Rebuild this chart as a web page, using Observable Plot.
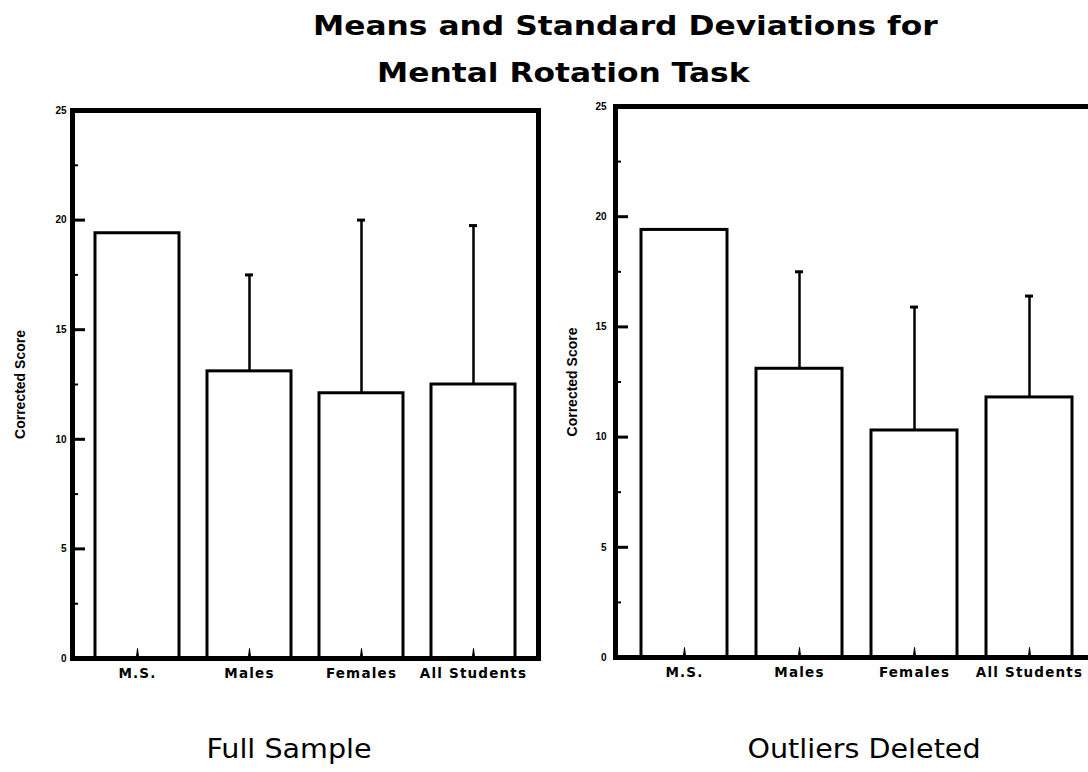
<!DOCTYPE html>
<html>
<head>
<meta charset="utf-8">
<script src="https://cdn.jsdelivr.net/npm/d3@7"></script>
<script src="https://cdn.jsdelivr.net/npm/@observablehq/plot@0.6"></script>
<style>
  html, body { margin: 0; padding: 0; background: #fff; }
  #wrap { position: relative; width: 1088px; height: 772px; overflow: hidden; background: #fff; font-family: "DejaVu Sans", sans-serif; color: #000; }
  .title { position: absolute; font: bold 27px/27px "DejaVu Sans", sans-serif; white-space: nowrap; transform-origin: left top; transform: scaleX(1.16); }
  .sub { position: absolute; width: 400px; text-align: center; font: 26px/26px "DejaVu Sans", sans-serif; white-space: nowrap; transform: scaleX(1.1); }
  .panel { position: absolute; }
  .panel svg { max-width: none !important; }
  .panel g[aria-label="x-axis tick label"] text { letter-spacing: 1.2px; }
</style>
</head>
<body>
<div id="wrap">
  <div class="title" id="t1" style="left:313px; top:12px;"></div>
  <div class="title" id="t2" style="left:377px; top:59px;"></div>
  <div class="panel" id="p1" style="left:0px; top:100px; width:560px;"></div>
  <div class="panel" id="p2" style="left:560px; top:96px; width:545px;"></div>
  <div class="sub" id="s1" style="left:89px; top:736px;"></div>
  <div class="sub" id="s2" style="left:664px; top:736px;"></div>
</div>
<script>
const titleLines = ["Means and Standard Deviations for", "Mental Rotation Task"];
const panelTitles = ["Full Sample", "Outliers Deleted"];
const yLabel = "Corrected Score";
const categories = ["M.S.", "Males", "Females", "All Students"];
const fullMeans = [19.4, 13.1, 12.1, 12.5];
const fullSD = [null, 4.4, 7.9, 7.25];
const deletedMeans = [19.4, 13.1, 10.3, 11.8];
const deletedSD = [null, 4.4, 5.6, 4.6];
const yTickLabels = [0, 5, 10, 15, 20, 25];
const yMajorTicks = [5, 10, 15, 20];
const yMinorTicks = [2.5, 7.5, 12.5, 17.5, 22.5];

document.getElementById("t1").textContent = titleLines[0];
document.getElementById("t2").textContent = titleLines[1];
document.getElementById("s1").textContent = panelTitles[0];
document.getElementById("s2").textContent = panelTitles[1];

function panel(means, sds, o) {
  const rows = categories.map((c, i) => ({category: c, mean: means[i], sd: sds[i]}));
  const err = rows.filter(d => d.sd != null).map(d => ({...d, top: d.mean + d.sd}));
  const innerW = o.width - o.marginLeft - o.marginRight;
  const minors = yMinorTicks.map(v => ({v}));
  const majors = yMajorTicks.map(v => ({v}));
  return Plot.plot({
    width: o.width, height: o.height,
    marginLeft: o.marginLeft, marginRight: o.marginRight,
    marginTop: o.marginTop, marginBottom: o.marginBottom,
    style: {fontFamily: "DejaVu Sans", background: "transparent", overflow: "visible", color: "black", maxWidth: "none"},
    x: {domain: categories, paddingInner: 0.25, paddingOuter: 0.125, insetLeft: o.insetLeft, insetRight: o.insetRight, label: null},
    y: {domain: [0, 25], label: null, axis: null},
    marks: [
      Plot.barY(rows, {x: "category", y: "mean", fill: "white", stroke: "black", strokeWidth: 3}),
      Plot.ruleX(err, {x: "category", y1: "mean", y2: "top", stroke: "black", strokeWidth: 2.5}),
      Plot.tickY(err, {x: "category", y: "top", stroke: "black", strokeWidth: 3, insetLeft: o.capInset, insetRight: o.capInset}),
      Plot.tickY(minors, {y: "v", stroke: "black", strokeWidth: 2, insetRight: innerW - 6}),
      Plot.tickY(majors, {y: "v", stroke: "black", strokeWidth: 3, insetRight: innerW - 13}),
      Plot.vector(categories, {x: d => d, frameAnchor: "bottom", length: 10, rotate: 0, anchor: "start", shape: "spike", r: 1.2, fill: "black", stroke: "black", strokeWidth: 1}),
      Plot.text(yTickLabels, {y: d => d, text: d => String(d), frameAnchor: "left", textAnchor: "end", dx: -o.yTickPad, fontSize: 10, fontWeight: "bold", fontFamily: "Liberation Sans Narrow, Liberation Sans", fill: "black"}),
      Plot.axisX({tickSize: 0, tickPadding: 10, fontSize: 13.5, fontWeight: "bold", label: null}),
      Plot.text([yLabel], {frameAnchor: "left", textAnchor: "middle", rotate: -90, dx: o.labelDx, fontSize: 14, fontWeight: "bold", fontFamily: "Liberation Sans"}),
      Plot.frame({stroke: "black", strokeWidth: 5})
    ]
  });
}

document.getElementById("p1").appendChild(panel(fullMeans, fullSD, {
  width: 560, height: 600, marginLeft: 72, marginRight: 22, marginTop: 10, marginBottom: 42,
  insetLeft: 9, insetRight: 9, capInset: 38, yTickPad: 6, labelDx: -52
}));
document.getElementById("p2").appendChild(panel(deletedMeans, deletedSD, {
  width: 545, height: 600, marginLeft: 55, marginRight: 0, marginTop: 10, marginBottom: 39,
  insetLeft: 12, insetRight: 18, capInset: 39, yTickPad: 9, labelDx: -43
}));
</script>
</body>
</html>
